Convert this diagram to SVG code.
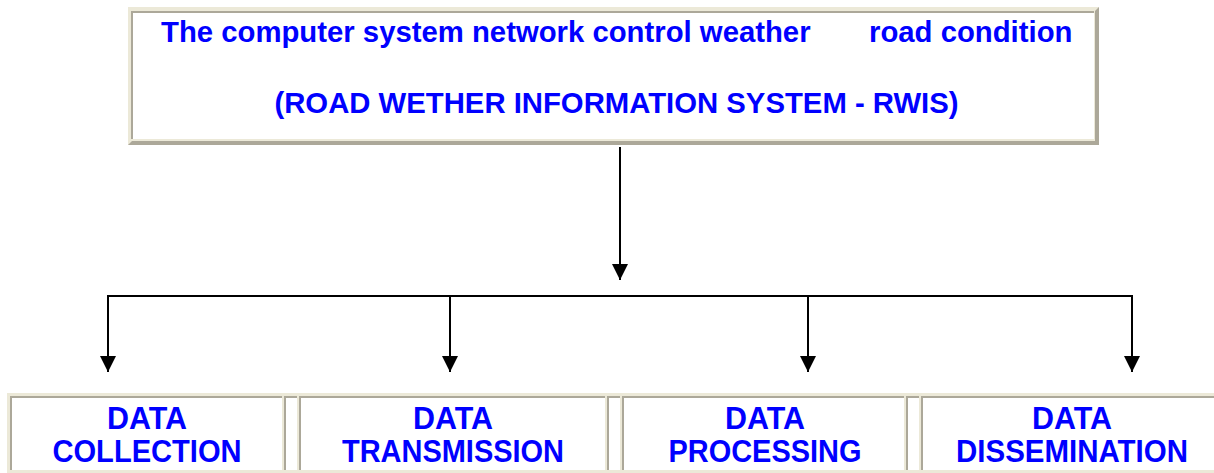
<svg xmlns="http://www.w3.org/2000/svg" width="1214" height="473" viewBox="0 0 1214 473">
  <style>
    .t { font-family: "Liberation Sans", Arial, sans-serif; font-weight: bold; fill: #0000FF; }
    .top { font-size: 29.3px; }
    .cell { font-size: 32px; text-anchor: middle; }
    .lt { fill: #ECE9D8; }
    .dk { fill: #ACA899; }
    .wh { fill: #FFFFFF; }
    .conn { stroke: #000; stroke-width: 2; fill: none; }
  </style>
  <defs>
    <marker id="ah" markerUnits="userSpaceOnUse" markerWidth="16" markerHeight="16" refX="16" refY="8" orient="auto" viewBox="0 0 16 16">
      <path d="M0,0 L16,8 L0,16 Z" fill="#000"/>
    </marker>
  </defs>
  <rect width="1214" height="473" fill="#FFFFFF"/>

  <g id="rwis">
    <rect class="lt" x="128" y="7" width="971" height="138"/>
    <path class="dk" d="M1099,7 L1099,145 L128,145 L132,141 L1095,141 L1095,11 Z"/>
    <rect class="dk" x="131" y="11" width="963" height="128"/>
    <rect class="wh" x="133" y="13" width="961" height="126"/>
    <text class="t top" y="42"><tspan x="161">The computer system network control weather</tspan><tspan x="869">road condition</tspan></text>
    <text class="t top" x="616.5" y="113" text-anchor="middle">(ROAD WETHER INFORMATION SYSTEM - RWIS)</text>
  </g>

  <g id="connectors">
    <line class="conn" x1="620" y1="147" x2="620" y2="280" marker-end="url(#ah)"/>
    <line class="conn" x1="107" y1="296" x2="1133" y2="296"/>
    <line class="conn" x1="108" y1="296" x2="108" y2="372" marker-end="url(#ah)"/>
    <line class="conn" x1="450" y1="296" x2="450" y2="372" marker-end="url(#ah)"/>
    <line class="conn" x1="808" y1="296" x2="808" y2="372" marker-end="url(#ah)"/>
    <line class="conn" x1="1132" y1="296" x2="1132" y2="372" marker-end="url(#ah)"/>
  </g>

  <g id="table">
    <rect class="lt" x="7" y="393" width="1213" height="80"/>
    <rect class="dk" x="284" y="396" width="13" height="74"/>
    <rect class="wh" x="286" y="398" width="11" height="72"/>
    <rect class="dk" x="607" y="396" width="13" height="74"/>
    <rect class="wh" x="609" y="398" width="11" height="72"/>
    <rect class="dk" x="906" y="396" width="13" height="74"/>
    <rect class="wh" x="908" y="398" width="11" height="72"/>
  </g>

  <g id="data-collection">
    <rect class="dk" x="10" y="396" width="272" height="74"/>
    <rect class="wh" x="12" y="398" width="270" height="72"/>
    <text class="t cell" x="147" y="429" textLength="80" lengthAdjust="spacingAndGlyphs">DATA</text>
    <text class="t cell" x="147" y="462" textLength="189" lengthAdjust="spacingAndGlyphs">COLLECTION</text>
  </g>

  <g id="data-transmission">
    <rect class="dk" x="299" y="396" width="306" height="74"/>
    <rect class="wh" x="301" y="398" width="304" height="72"/>
    <text class="t cell" x="453" y="429" textLength="80" lengthAdjust="spacingAndGlyphs">DATA</text>
    <text class="t cell" x="453" y="462" textLength="222" lengthAdjust="spacingAndGlyphs">TRANSMISSION</text>
  </g>

  <g id="data-processing">
    <rect class="dk" x="622" y="396" width="282" height="74"/>
    <rect class="wh" x="624" y="398" width="280" height="72"/>
    <text class="t cell" x="765" y="429" textLength="80" lengthAdjust="spacingAndGlyphs">DATA</text>
    <text class="t cell" x="765" y="462" textLength="193" lengthAdjust="spacingAndGlyphs">PROCESSING</text>
  </g>

  <g id="data-dissemination">
    <rect class="dk" x="921" y="396" width="300" height="74"/>
    <rect class="wh" x="923" y="398" width="298" height="72"/>
    <text class="t cell" x="1072" y="429" textLength="80" lengthAdjust="spacingAndGlyphs">DATA</text>
    <text class="t cell" x="1072" y="462" textLength="232" lengthAdjust="spacingAndGlyphs">DISSEMINATION</text>
  </g>
</svg>
